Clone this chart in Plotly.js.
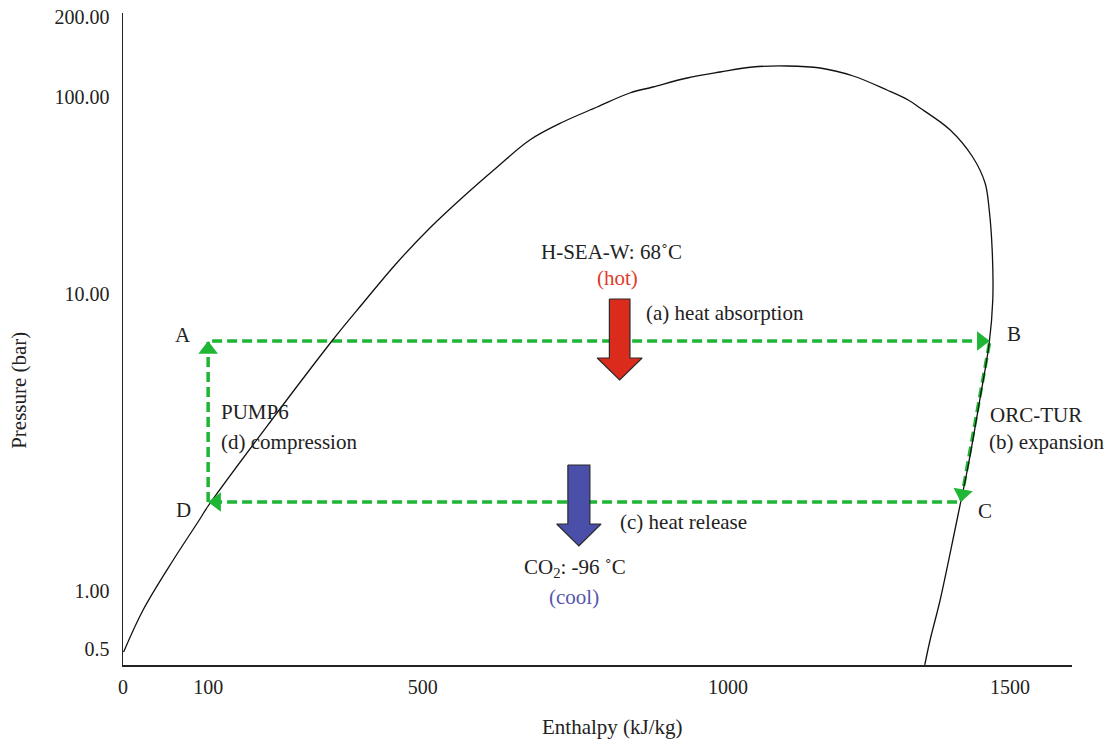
<!DOCTYPE html>
<html><head><meta charset="utf-8">
<script src="https://cdn.plot.ly/plotly-3.0.1.min.js"></script>
<style>html,body{margin:0;padding:0;background:#fff}#chart{width:1109px;height:742px}</style>
</head><body><div id="chart"></div><script>
// Saturation dome (x: enthalpy axis units, y: pressure axis units)
const domeX = [1, 34, 85, 129, 144, 352, 406, 463, 519, 575, 633, 688, 744, 802, 857, 896, 954, 1010, 1065, 1123, 1179, 1235, 1292, 1328, 1348, 1399, 1437, 1458, 1465, 1470, 1471, 1465, 1449, 1429, 1415, 1407, 1382, 1365, 1356];
const domeY = [13, 55, 105, 145, 159, 323, 362, 402, 437, 468, 498, 525, 543, 558, 572, 578, 587, 593, 598, 599, 597, 589, 575, 565, 557, 535, 508, 482, 455, 415, 365, 322, 265, 198, 158, 135, 65, 25, 0];

// Cycle state points A, B, C, D
const cycleLabels = ['A', 'B', 'C', 'D'];
const cycleX = [144, 1466, 1417, 144];
const cycleY = [324, 324, 163, 163];

// Axis ticks
const xTickVals = [0, 144, 507, 1023, 1500];
const xTickText = ['0', '100', '500', '1000', '1500'];
const yTickVals = [16.5, 74, 371, 568.5, 648.5];
const yTickText = ['0.5', '1.00', '10.00', '100.00', '200.00'];

// Texts
const processTexts = ['PUMP6', '(d) compression', 'ORC-TUR', '(b) expansion', '(a) heat absorption', '(c) heat release'];
const hotTexts = ['H-SEA-W: 68˚C', '(hot)'];
const coolTexts = ['CO<sub>2</sub>: -96 ˚C', '(cool)'];
const axisTitles = ['Enthalpy (kJ/kg)', 'Pressure (bar)'];

// ---- layout constants ----
const W = 1109, H = 742;
const M = {l: 123, r: 37, t: 13, b: 77};
const xMax = 1605, yMax = 652;
const pxX = (W - M.l - M.r) / xMax, pxY = (H - M.t - M.b) / yMax;
const FONT = 'Liberation Serif, Times New Roman, serif';
const GREEN = '#1fb535';
const TXT = '#222';

// cycle path: D -> A -> B -> C -> D
const order = [3, 0, 1, 2, 3];
const cycTrace = {
  x: order.map(i => cycleX[i]), y: order.map(i => cycleY[i]),
  mode: 'lines', line: {color: GREEN, width: 3.5, dash: '10px,5px'},
  hoverinfo: 'skip', showlegend: false
};
const domeTrace = {
  x: domeX, y: domeY, mode: 'lines',
  line: {color: '#111', width: 1.3, shape: 'spline', smoothing: 1},
  hoverinfo: 'skip', showlegend: false
};

// arrowheads at the end of each cycle segment (triangle markers, rotated along the segment)
const HEAD = 17; // marker size (px)
const headX = [], headY = [], headAng = [];
for (let s = 0; s < 4; s++) {
  const a = order[s], b = order[s + 1];
  const dxp = (cycleX[b] - cycleX[a]) * pxX, dyp = (cycleY[b] - cycleY[a]) * pxY;
  const len = Math.hypot(dxp, dyp);
  const back = HEAD / 2;
  headX.push(cycleX[b] - (dxp / len) * back / pxX);
  headY.push(cycleY[b] - (dyp / len) * back / pxY);
  headAng.push(Math.atan2(dxp, dyp) * 180 / Math.PI);
}
const headTrace = {
  x: headX, y: headY, mode: 'markers',
  marker: {symbol: 'triangle-up', size: HEAD, color: GREEN, angle: headAng, line: {width: 0}},
  hoverinfo: 'skip', showlegend: false
};

function bigArrow(cx, top, neck, tip, shaftHalf, headHalf, fill) {
  return {
    x: [cx - shaftHalf, cx + shaftHalf, cx + shaftHalf, cx + headHalf, cx, cx - headHalf, cx - shaftHalf, cx - shaftHalf],
    y: [top, top, neck, neck, tip, neck, neck, top],
    mode: 'lines', fill: 'toself', fillcolor: fill,
    line: {color: '#2a2a2a', width: 1.2}, hoverinfo: 'skip', showlegend: false
  };
}
const redArrow = bigArrow(840, 366, 307, 285, 17.4, 38, '#db2b1c');
const blueArrow = bigArrow(771, 200, 141, 119, 18.6, 37.5, '#4a50aa');

const ann = [];
const font = (c, s) => ({family: FONT, size: s || 21, color: c || TXT});
function txt(t, x, y, xa, c) {
  ann.push({text: t, x: x, y: y, xref: 'x', yref: 'y', showarrow: false, xanchor: xa || 'center', yanchor: 'middle', font: font(c)});
}
// state point labels
const labelX = [102, 1507, 1458, 103];
const labelY = [330, 331, 154, 155];
cycleLabels.forEach((l, i) => txt(l, labelX[i], labelY[i]));
txt(processTexts[0], 162, 253, 'left');
txt(processTexts[1], 162, 223, 'left');
txt(processTexts[2], 1463, 250, 'left');
txt(processTexts[3], 1461, 223, 'left');
txt(processTexts[4], 881, 352, 'left');
txt(processTexts[5], 837, 143, 'left');
txt(hotTexts[0], 703, 413, 'left');
txt(hotTexts[1], 837, 387, 'center', '#e03a2c');
txt(coolTexts[0], 675, 97, 'left');
txt(coolTexts[1], 763, 68, 'center', '#5656ad');
// axis titles (paper coordinates, placed as in the reference)
ann.push({text: axisTitles[0], x: 0.5163, y: -0.095, xref: 'paper', yref: 'paper', showarrow: false, font: font(), xanchor: 'center', yanchor: 'middle'});
ann.push({text: axisTitles[1], x: -0.1096, y: 0.422, xref: 'paper', yref: 'paper', showarrow: false, font: font(), textangle: -90, xanchor: 'center', yanchor: 'middle'});

const axisCommon = {
  showgrid: false, zeroline: false, showline: true, linecolor: '#222', linewidth: 1.5,
  ticks: '', tickfont: font(null, 20), tickmode: 'array', fixedrange: true
};
const layout = {
  width: W, height: H, margin: M, paper_bgcolor: '#fff', plot_bgcolor: '#fff',
  showlegend: false,
  xaxis: Object.assign({}, axisCommon, {range: [0, xMax], tickvals: xTickVals, ticktext: xTickText, ticklabelstandoff: 3}),
  yaxis: Object.assign({}, axisCommon, {range: [0, yMax], tickvals: yTickVals, ticktext: yTickText, ticklabelstandoff: 8}),
  annotations: ann
};
Plotly.newPlot('chart', [cycTrace, domeTrace, headTrace, redArrow, blueArrow], layout, {staticPlot: true});
</script></body></html>
